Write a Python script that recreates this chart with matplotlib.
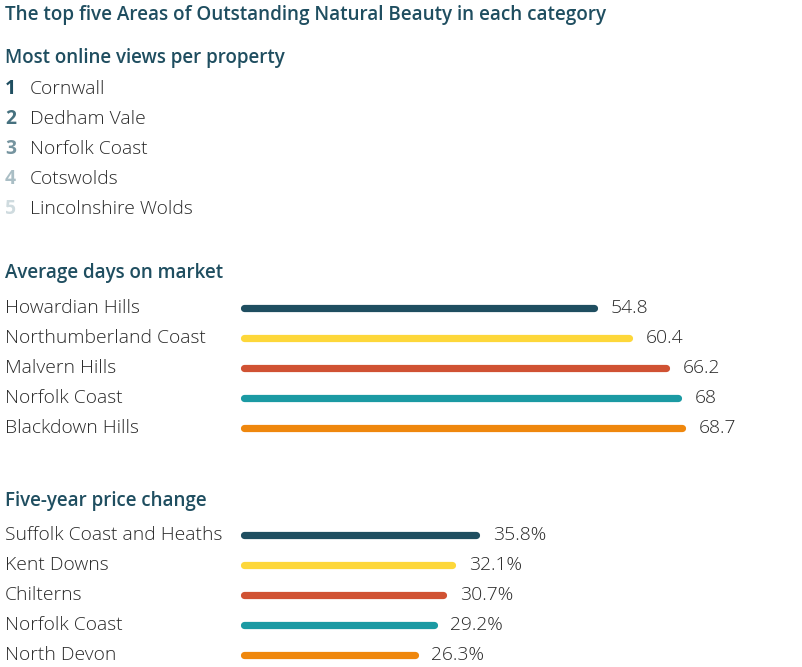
import matplotlib
matplotlib.use("Agg")
import matplotlib.pyplot as plt
from matplotlib.transforms import blended_transform_factory

plt.rcParams['font.family'] = ['Open Sans', 'DejaVu Sans']

title = "The top five Areas of Outstanding Natural Beauty in each category"

views_heading = "Most online views per property"
views_rank = ["1", "2", "3", "4", "5"]
views_names = ["Cornwall", "Dedham Vale", "Norfolk Coast", "Cotswolds", "Lincolnshire Wolds"]

days_heading = "Average days on market"
days_names = ["Howardian Hills", "Northumberland Coast", "Malvern Hills", "Norfolk Coast", "Blackdown Hills"]
days_values = [54.8, 60.4, 66.2, 68, 68.7]
days_labels = ["54.8", "60.4", "66.2", "68", "68.7"]

price_heading = "Five-year price change"
price_names = ["Suffolk Coast and Heaths", "Kent Downs", "Chilterns", "Norfolk Coast", "North Devon"]
price_values = [35.8, 32.1, 30.7, 29.2, 26.3]
price_labels = ["35.8%", "32.1%", "30.7%", "29.2%", "26.3%"]

bar_colors = ["#1f4e60", "#fdd73a", "#d05233", "#1b9aa3", "#ef870d"]
rank_colors = ["#1f4e60", "#46717f", "#75949f", "#aabec5", "#cfdbdf"]
head_color = "#1f4e60"
text_color = "#2a2a2a"

W, H = 802, 667
fig = plt.figure(figsize=(W / 100, H / 100), dpi=100)
fig.patch.set_facecolor("white")

HEAD_SIZE = 13.5
TITLE_SIZE = 13.6
BODY_SIZE = 13.9


def fy(py):
    return 1 - py / H


fig.text(5 / W, fy(20), title, fontsize=TITLE_SIZE, fontweight="semibold",
         color=head_color, va="baseline", ha="left")

fig.text(5 / W, fy(63.5), views_heading, fontsize=HEAD_SIZE, fontweight="semibold",
         color=head_color, va="baseline", ha="left")
for i, (r, n) in enumerate(zip(views_rank, views_names)):
    y = fy(94 + 30 * i)
    fig.text(5 / W, y, r, fontsize=BODY_SIZE, fontweight="bold", color=rank_colors[i],
             va="baseline")
    fig.text(30 / W, y, n, fontsize=BODY_SIZE, fontweight="light", color=text_color,
             va="baseline")


def bar_block(heading, head_base, bar_y0, names, values, labels, px_per_unit):
    fig.text(5 / W, fy(head_base), heading, fontsize=HEAD_SIZE, fontweight="semibold",
             color=head_color, va="baseline", ha="left")
    left = 243.5
    width = W - left
    bottom = bar_y0 + 30 * 4.5
    ax = fig.add_axes([left / W, fy(bottom), width / W, 150 / H])
    ax.set_xlim(0, width / px_per_unit)
    ax.set_ylim(4.5, -0.5)
    ax.axis("off")
    trans = blended_transform_factory(fig.transFigure, ax.transData)
    for i, (n, v, lab) in enumerate(zip(names, values, labels)):
        ax.plot([0, v], [i, i], color=bar_colors[i], lw=5.2, solid_capstyle="round",
                clip_on=False)
        ax.annotate(lab, (v, i), xytext=(12, -3.8), textcoords="offset points",
                    fontsize=BODY_SIZE, fontweight="light", color=text_color,
                    va="baseline")
        ax.annotate(n, (5 / W, i), xycoords=trans, xytext=(0, -3.8),
                    textcoords="offset points", fontsize=BODY_SIZE, fontweight="light",
                    color=text_color, va="baseline")


bar_block(days_heading, 278, 307.5, days_names, days_values, days_labels, 6.387)
bar_block(price_heading, 506, 535, price_names, price_values, price_labels, 6.508)

fig.savefig("out.png", dpi=100, facecolor="white")
